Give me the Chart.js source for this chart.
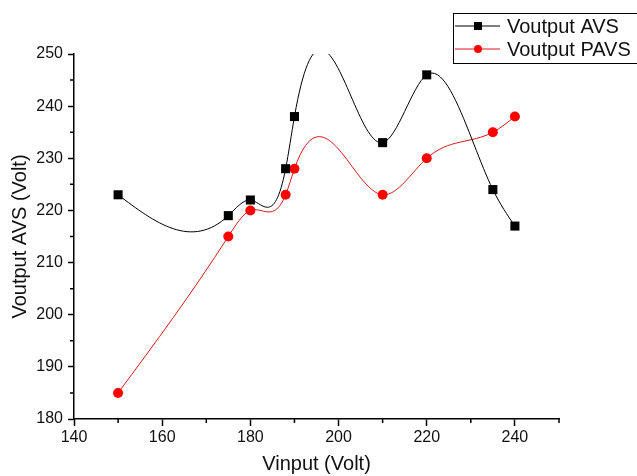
<!DOCTYPE html>
<html>
<head>
<meta charset="utf-8">
<script src="https://cdn.jsdelivr.net/npm/chart.js@4"></script>
<style>
  html, body { margin: 0; padding: 0; background: #fff; }
  #wrap { position: relative; width: 637px; height: 476px; }
</style>
</head>
<body>
<div id="wrap"><canvas id="voutChart"></canvas></div>
<script>
/************************
 *      Data
 ************************/
const VINPUT = [150, 175, 180, 188, 190, 210, 220, 235, 240]
const VOUT_AVS = [223, 219, 222, 228, 238, 233, 246, 224, 217]
const VOUT_PAVS = [185, 215, 220, 223, 228, 223, 230, 235, 238]
const X_TICKS = [140, 160, 180, 200, 220, 240]
const X_MINOR = [150, 170, 190, 210, 230, 250]
const Y_TICKS = [180, 190, 200, 210, 220, 230, 240, 250]
const Y_MINOR = [185, 195, 205, 215, 225, 235, 245]

const FONT = "'Liberation Sans', Arial, sans-serif"

/************************
 *      Method
 ************************/
// natural cubic spline second derivatives
const splineM = (xs, ys) => {
    const n = xs.length
    const M = new Array(n).fill(0)
    if (n < 3) return M
    const a = [], b = [], c = [], d = []
    for (let i = 1; i < n - 1; i++) {
        const h0 = xs[i] - xs[i - 1], h1 = xs[i + 1] - xs[i]
        a.push(h0)
        b.push(2 * (h0 + h1))
        c.push(h1)
        d.push(6 * ((ys[i + 1] - ys[i]) / h1 - (ys[i] - ys[i - 1]) / h0))
    }
    const m = b.length
    for (let i = 1; i < m; i++) {
        const w = a[i] / b[i - 1]
        b[i] -= w * c[i - 1]
        d[i] -= w * d[i - 1]
    }
    const sol = new Array(m)
    sol[m - 1] = d[m - 1] / b[m - 1]
    for (let i = m - 2; i >= 0; i--) sol[i] = (d[i] - c[i] * sol[i + 1]) / b[i]
    for (let i = 0; i < m; i++) M[i + 1] = sol[i]
    return M
}

// put the spline's bezier handles on the points, so the line element draws the curve
const splinePlugin = {
    id: 'splineCurve',
    beforeDatasetDraw(chart, args) {
        const meta = args.meta
        const ds = chart.data.datasets[args.index]
        const xs = ds.data.map(p => p.x)
        const ys = ds.data.map(p => p.y)
        const M = splineM(xs, ys)
        const sx = chart.scales.x, sy = chart.scales.y
        const pts = meta.data
        for (let i = 0; i < xs.length - 1; i++) {
            const h = xs[i + 1] - xs[i]
            const s = (ys[i + 1] - ys[i]) / h
            const d0 = s - h * (2 * M[i] + M[i + 1]) / 6
            const d1 = s + h * (M[i] + 2 * M[i + 1]) / 6
            pts[i].cp2x = sx.getPixelForValue(xs[i] + h / 3)
            pts[i].cp2y = sy.getPixelForValue(ys[i] + d0 * h / 3)
            pts[i + 1].cp1x = sx.getPixelForValue(xs[i + 1] - h / 3)
            pts[i + 1].cp1y = sy.getPixelForValue(ys[i + 1] - d1 * h / 3)
        }
        meta.dataset._pointsUpdated = true
        meta.dataset._path = undefined
    }
}

const minorTickPlugin = {
    id: 'minorTicks',
    afterDraw(chart) {
        const ctx = chart.ctx
        const { left, bottom } = chart.chartArea
        ctx.save()
        ctx.strokeStyle = '#000'
        ctx.lineWidth = 1.5
        ctx.beginPath()
        X_MINOR.forEach(v => {
            const px = chart.scales.x.getPixelForValue(v)
            ctx.moveTo(px, bottom)
            ctx.lineTo(px, bottom + 4)
        })
        Y_MINOR.forEach(v => {
            const py = chart.scales.y.getPixelForValue(v)
            ctx.moveTo(left, py)
            ctx.lineTo(left - 4, py)
        })
        ctx.stroke()
        ctx.restore()
    }
}

const drawMarker = (ctx, style, x, y, color) => {
    ctx.fillStyle = color
    if (style === 'rect') {
        ctx.fillRect(x - 4, y - 4, 8, 8)
    } else {
        ctx.beginPath()
        ctx.arc(x, y, 4, 0, Math.PI * 2)
        ctx.fill()
    }
}

const legendPlugin = {
    id: 'boxLegend',
    afterDraw(chart) {
        const ctx = chart.ctx
        ctx.save()
        ctx.strokeStyle = '#000'
        ctx.lineWidth = 1
        ctx.strokeRect(453.5, 13.5, 200, 50)
        ctx.font = '20px ' + FONT
        ctx.textBaseline = 'middle'
        ctx.textAlign = 'left'
        chart.data.datasets.forEach((ds, i) => {
            const y = 26 + i * 23
            ctx.strokeStyle = ds.borderColor
            ctx.lineWidth = 1
            ctx.beginPath()
            ctx.moveTo(455, y)
            ctx.lineTo(500, y)
            ctx.stroke()
            drawMarker(ctx, ds.pointStyle, 478, y, ds.pointBackgroundColor)
            ctx.fillStyle = '#111'
            ctx.fillText(ds.label, 507, y + 1)
        })
        ctx.restore()
    }
}

const toPoints = (xs, ys) => xs.map((x, i) => ({ x: x, y: ys[i] }))

const createChart = () => {
    new Chart('voutChart', {
        type: 'line',
        data: {
            datasets: [{
                label: 'Voutput AVS',
                data: toPoints(VINPUT, VOUT_AVS),
                borderColor: '#000',
                borderWidth: 1,
                tension: 0.4,
                pointStyle: 'rect',
                pointRadius: 6.4,
                pointBackgroundColor: '#000',
                pointBorderColor: '#000',
                pointBorderWidth: 0
            }, {
                label: 'Voutput PAVS',
                data: toPoints(VINPUT, VOUT_PAVS),
                borderColor: '#d81818',
                borderWidth: 1,
                tension: 0.4,
                pointStyle: 'circle',
                pointRadius: 5,
                pointBackgroundColor: '#ff0000',
                pointBorderColor: '#ff0000',
                pointBorderWidth: 0
            }]
        },
        options: {
            responsive: true,
            maintainAspectRatio: false,
            animation: false,
            devicePixelRatio: 1,
            layout: { padding: { left: 0, top: 54, right: 78, bottom: 0 } },
            plugins: {
                legend: { display: false },
                tooltip: { enabled: false }
            },
            scales: {
                x: {
                    type: 'linear',
                    min: 140,
                    max: 250,
                    afterBuildTicks: s => { s.ticks = X_TICKS.map(v => ({ value: v })) },
                    afterFit: s => { s.height = 57 },
                    border: { display: true, color: '#000', width: 1.5 },
                    grid: { drawOnChartArea: false, drawTicks: true, tickLength: 7, tickColor: '#000', tickWidth: 1.5 },
                    ticks: { color: '#111', font: { family: FONT, size: 16 }, padding: 2, maxRotation: 0 },
                    title: { display: true, text: 'Vinput (Volt)', color: '#111', font: { family: FONT, size: 20 }, padding: { top: 0, bottom: 0 } }
                },
                y: {
                    type: 'linear',
                    min: 180,
                    max: 250,
                    afterBuildTicks: s => { s.ticks = Y_TICKS.map(v => ({ value: v })) },
                    afterFit: s => { s.width = 74 },
                    border: { display: true, color: '#000', width: 1.5 },
                    grid: { drawOnChartArea: false, drawTicks: true, tickLength: 6, tickColor: '#000', tickWidth: 1.5 },
                    ticks: { color: '#111', font: { family: FONT, size: 16 }, padding: 5 },
                    title: { display: true, text: 'Voutput AVS (Volt)', color: '#111', font: { family: FONT, size: 20 }, padding: { top: 8, bottom: 0 } }
                }
            }
        },
        plugins: [splinePlugin, minorTickPlugin, legendPlugin]
    })
}

createChart()
</script>
</body>
</html>
